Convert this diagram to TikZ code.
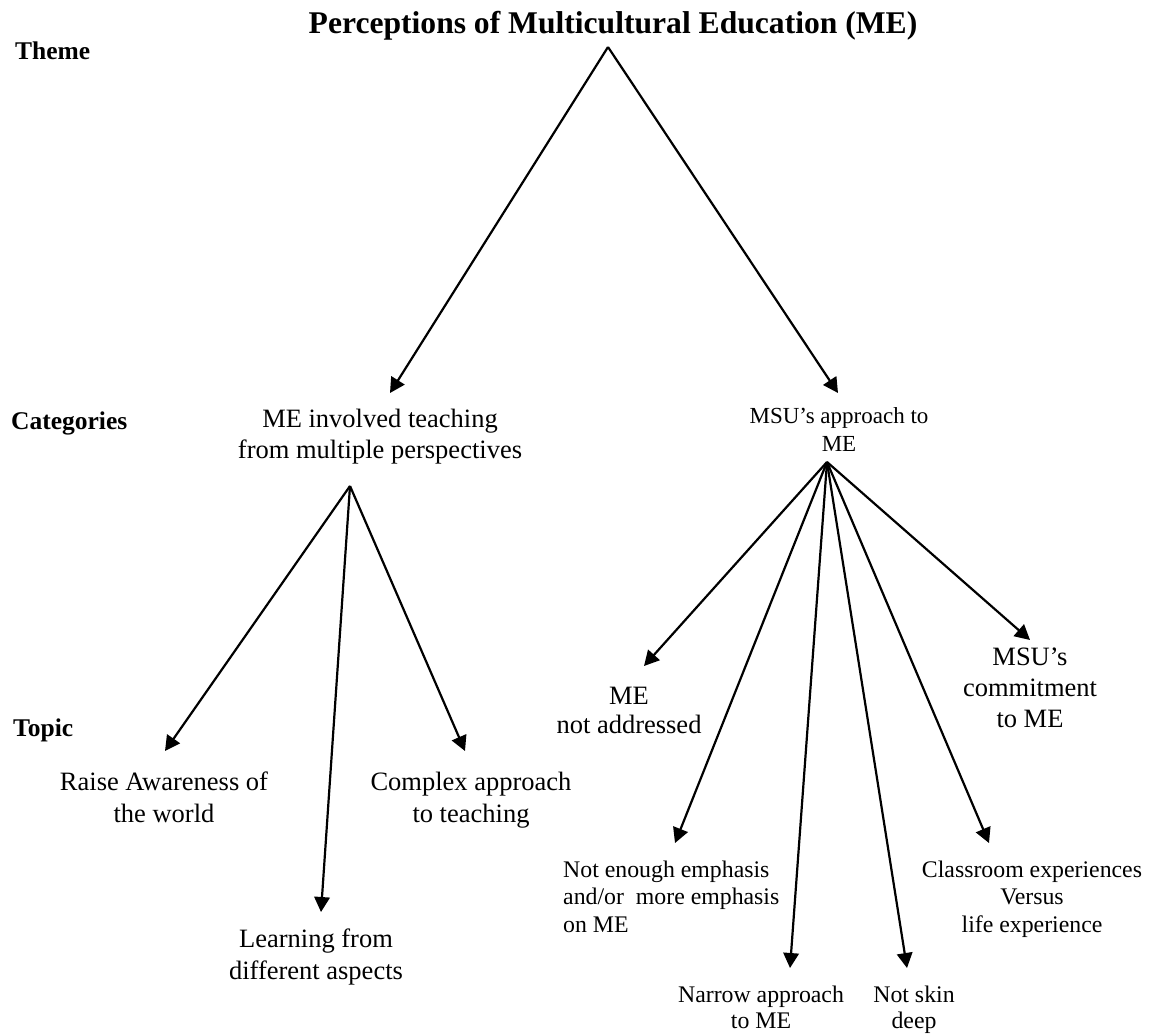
\documentclass[tikz,border=0pt]{standalone}
\usepackage{fontspec}
\setmainfont{Liberation Serif}
\usetikzlibrary{arrows.meta}

\begin{document}
\begin{tikzpicture}[x=1pt, y=-1pt,
  headlabel/.style={font=\fontsize{25.5}{30}\selectfont\bfseries, anchor=base west, inner sep=0pt},
  titletext/.style={font=\fontsize{31.6}{38}\selectfont\bfseries, anchor=base, inner sep=0pt},
  bigtext/.style={font=\fontsize{26.5}{32.5}\selectfont, anchor=base, inner sep=0pt},
  midtext/.style={font=\fontsize{23}{28}\selectfont, anchor=base, inner sep=0pt},
  smalltext/.style={font=\fontsize{23.8}{27.5}\selectfont, anchor=base, inner sep=0pt},
  link/.style={line width=2.2pt, -{Triangle[length=15pt, width=15.5pt]}}
]
\useasboundingbox (0,0) rectangle (1156,1034);

% row labels
\node[headlabel] (theme) at (15,59) {Theme};
\node[headlabel] (categories) at (11,429) {Categories};
\node[headlabel] (topic) at (13,736) {Topic};

% theme
\node[titletext] (title) at (613,33) {Perceptions of Multicultural Education (ME)};

% categories
\node[bigtext, font=\fontsize{26.5}{31}\selectfont] (multi) at (380,427) {\begin{tabular}[t]{@{}c@{}}ME involved teaching\\ from multiple perspectives\end{tabular}};
\node[midtext] (msu) at (839,423) {\begin{tabular}[t]{@{}c@{}}MSU’s approach to\\ ME\end{tabular}};

% topics under the first category
\node[bigtext] (raise) at (164,790) {\begin{tabular}[t]{@{}c@{}}Raise Awareness of\\ the world\end{tabular}};
\node[bigtext] (complex) at (471,790) {\begin{tabular}[t]{@{}c@{}}Complex approach\\ to teaching\end{tabular}};
\node[bigtext] (learning) at (316,947) {\begin{tabular}[t]{@{}c@{}}Learning from\\ different aspects\end{tabular}};

% topics under the second category
\node[bigtext, font=\fontsize{26.5}{29}\selectfont] (notaddr) at (629,704) {\begin{tabular}[t]{@{}c@{}}ME\\ not addressed\end{tabular}};
\node[bigtext, font=\fontsize{26.5}{31}\selectfont] (commit) at (1030,665) {\begin{tabular}[t]{@{}c@{}}MSU’s\\ commitment\\ to ME\end{tabular}};
\node[smalltext, anchor=base west] (emphasis) at (563,877) {\begin{tabular}[t]{@{}l@{}}Not enough emphasis\\ and/or~ more emphasis\\ on ME\end{tabular}};
\node[smalltext] (classroom) at (1032,877) {\begin{tabular}[t]{@{}c@{}}Classroom experiences\\ Versus\\ life experience\end{tabular}};
\node[smalltext, font=\fontsize{23.8}{26}\selectfont] (narrow) at (761,1002) {\begin{tabular}[t]{@{}c@{}}Narrow approach\\ to ME\end{tabular}};
\node[smalltext, font=\fontsize{23.8}{26}\selectfont] (skin) at (914,1002) {\begin{tabular}[t]{@{}c@{}}Not skin\\ deep\end{tabular}};

% branching points and arrow ends
\coordinate (top) at (608,47);
\coordinate (multiIn) at (390,393);
\coordinate (msuIn) at (838,393);
\coordinate (multiOut) at (350,486);
\coordinate (msuOut) at (827,462);
\coordinate (raiseIn) at (165,751);
\coordinate (learningIn) at (321,912);
\coordinate (complexIn) at (465,751);
\coordinate (notaddrIn) at (644,666);
\coordinate (emphasisIn) at (675,843);
\coordinate (narrowIn) at (790,968);
\coordinate (skinIn) at (907,968);
\coordinate (classroomIn) at (989,843);
\coordinate (commitIn) at (1030,640);

% theme to categories
\draw[link] (top) -- (multiIn);
\draw[link] (top) -- (msuIn);

% first category to its topics
\draw[link] (multiOut) -- (raiseIn);
\draw[link] (multiOut) -- (learningIn);
\draw[link] (multiOut) -- (complexIn);

% second category to its topics
\draw[link] (msuOut) -- (notaddrIn);
\draw[link] (msuOut) -- (emphasisIn);
\draw[link] (msuOut) -- (narrowIn);
\draw[link] (msuOut) -- (skinIn);
\draw[link] (msuOut) -- (classroomIn);
\draw[link] (msuOut) -- (commitIn);
\end{tikzpicture}
\end{document}
